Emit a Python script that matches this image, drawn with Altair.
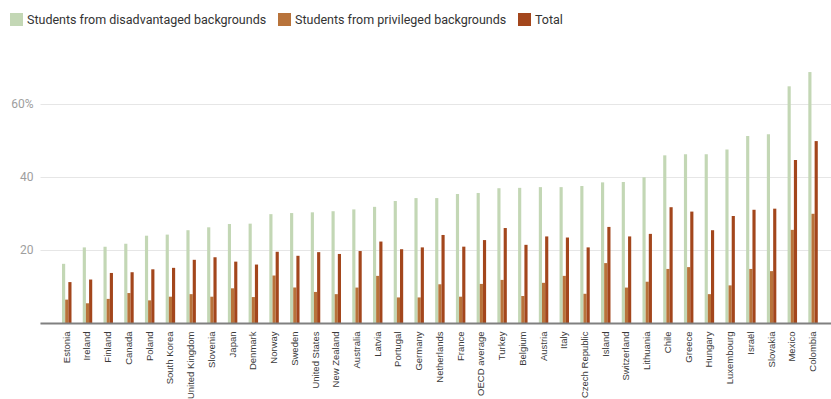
import altair as alt
import pandas as pd

countries = ["Estonia", "Ireland", "Finland", "Canada", "Poland", "South Korea",
             "United Kingdom", "Slovenia", "Japan", "Denmark", "Norway", "Sweden",
             "United States", "New Zealand", "Australia", "Latvia", "Portugal",
             "Germany", "Netherlands", "France", "OECD average", "Turkey", "Belgium",
             "Austria", "Italy", "Czech Republic", "Island", "Switzerland", "Lithuania",
             "Chile", "Greece", "Hungary", "Luxembourg", "Israël", "Slovakia",
             "Mexico", "Colombia"]
disadvantaged = [16.2, 20.7, 20.9, 21.7, 23.9, 24.2, 25.4, 26.2, 27.1, 27.2, 29.8, 30.1,
                 30.3, 30.6, 31.1, 31.8, 33.4, 34.2, 34.2, 35.3, 35.6, 36.9, 37.0, 37.2,
                 37.2, 37.5, 38.5, 38.6, 39.9, 45.9, 46.2, 46.2, 47.5, 51.2, 51.7, 64.8, 68.7]
privileged = [6.4, 5.4, 6.6, 8.2, 6.2, 7.2, 7.9, 7.2, 9.5, 7.1, 13.0, 9.7,
              8.5, 7.9, 9.7, 12.9, 7.0, 7.0, 10.6, 7.2, 10.7, 11.8, 7.4, 11.0,
              12.9, 8.0, 16.4, 9.7, 11.3, 14.8, 15.3, 7.9, 10.3, 14.8, 14.2, 25.5, 29.9]
total = [11.2, 11.9, 13.7, 13.9, 14.7, 15.1, 17.3, 18.0, 16.8, 16.0, 19.5, 18.4,
         19.4, 18.9, 19.7, 22.3, 20.2, 20.7, 24.1, 20.9, 22.7, 26.0, 21.4, 23.7,
         23.4, 20.7, 26.3, 23.7, 24.4, 31.7, 30.5, 25.4, 29.3, 31.0, 31.3, 44.6, 49.8]

series_names = ["Students from disadvantaged backgrounds",
                "Students from privileged backgrounds",
                "Total"]
series_colors = ["#c3d7b5", "#b8733b", "#a3461c"]

rows = []
for name, vals in zip(series_names, [disadvantaged, privileged, total]):
    for c, v in zip(countries, vals):
        rows.append({"country": c, "series": name, "value": v})
df = pd.DataFrame(rows)

chart = alt.Chart(df).mark_bar().encode(
    x=alt.X("country:N", sort=countries,
            scale=alt.Scale(paddingInner=0.543, paddingOuter=0.85, align=0.625),
            axis=alt.Axis(title=None, labelAngle=-90, labelFont="Liberation Sans",
                          labelFontSize=9.5, labelColor="#3a3a3a", ticks=False,
                          labelPadding=8, domainColor="#808080", domainWidth=2,
                          grid=False, zindex=1)),
    xOffset=alt.XOffset("series:N", sort=series_names,
                        scale=alt.Scale(paddingInner=0, paddingOuter=0)),
    y=alt.Y("value:Q", scale=alt.Scale(domain=[0, 72], nice=False),
            axis=alt.Axis(title=None, values=[0, 20, 40, 60],
                          labelExpr="datum.value == 60 ? '60%' : (datum.value == 0 ? '' : datum.label)",
                          domain=False, ticks=False, gridColor="#e6e6e6",
                          labelFont="Roboto", labelFontSize=12, labelColor="#9e9e9e",
                          labelPadding=7)),
    color=alt.Color("series:N", sort=series_names,
                    scale=alt.Scale(domain=series_names, range=series_colors),
                    legend=alt.Legend(title=None, orient="none", legendX=-30, legendY=-47,
                                      direction="horizontal", symbolType="square",
                                      symbolSize=169, symbolStrokeWidth=0,
                                      symbolOpacity=1,
                                      labelFont="Roboto", labelFontSize=12.5,
                                      labelColor="#333333", columnPadding=11,
                                      labelOffset=4, labelLimit=400)),
).properties(
    width=791, height=263,
    autosize=alt.AutoSizeParams(type="none"),
    padding={"left": 40, "top": 60, "right": 0, "bottom": 80},
).configure_view(stroke=None)

chart.save("out.html", embed_options={"renderer": "svg", "actions": False})
